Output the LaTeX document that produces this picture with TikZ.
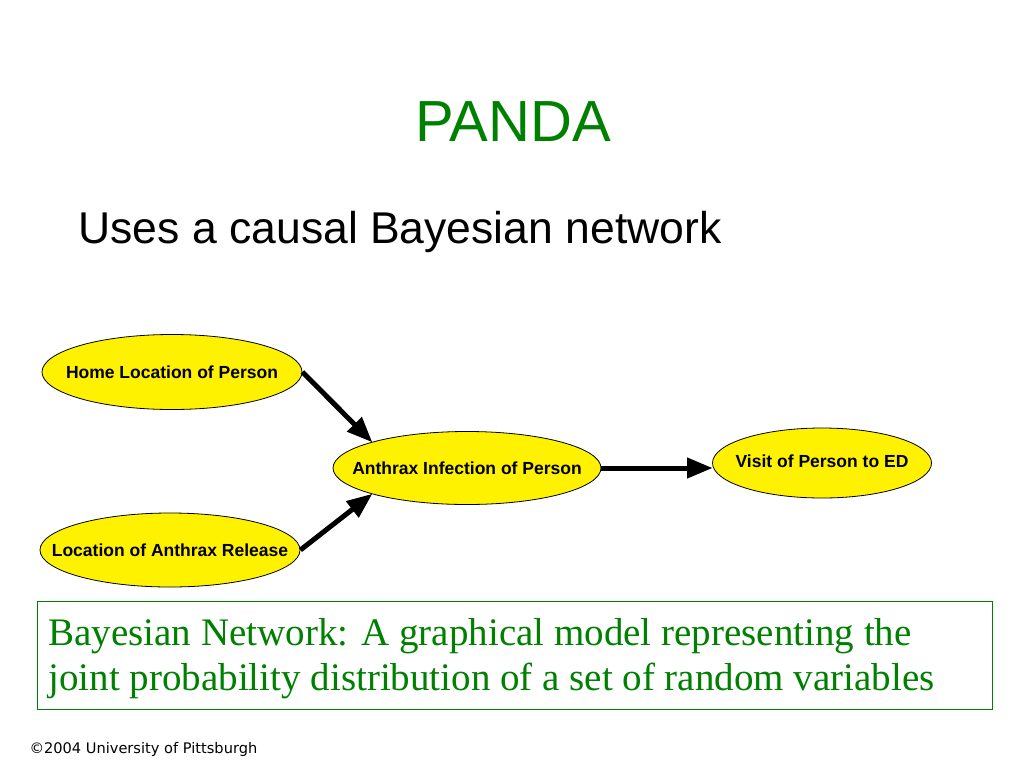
\documentclass[tikz,border=0pt]{standalone}
\usepackage{fontspec}
\setmainfont{Liberation Serif}
\setsansfont{Liberation Sans}
\newfontfamily\footfont{DejaVu Sans}
\usepackage{tikz}
\usetikzlibrary{shapes,arrows}
\usetikzlibrary{calc}
\definecolor{slidegreen}{RGB}{0,128,0}

\begin{document}
\begin{tikzpicture}[x=1pt,y=-1pt,->,>=triangle 45,line width=5pt,
                    var node/.style={ellipse,fill=yellow,draw=black,line width=0.8pt,inner sep=0pt,font=\sffamily\bfseries\fontsize{17.5}{20}\selectfont}]
  \useasboundingbox[fill=white] (0,0) rectangle (1024,768);

  \node[draw=none,text=slidegreen,font=\sffamily\fontsize{58}{66}\selectfont] (title) at (513,122) {PANDA};
  \node[draw=none,anchor=base west,inner sep=0pt,font=\sffamily\fontsize{44.5}{50}\selectfont] (sub) at (76,243) {Uses a causal Bayesian network};

  \node[var node,minimum width=260pt,minimum height=75pt] (1) at (172,372) {\makebox[0pt]{Home Location of Person}};
  \node[var node,minimum width=260pt,minimum height=74pt] (2) at (170,550) {\makebox[0pt]{Location of Anthrax Release}};
  \node[var node,minimum width=268pt,minimum height=73pt] (3) at (467,468) {\makebox[0pt]{Anthrax Infection of Person}};
  \node[var node,minimum width=219pt,minimum height=70pt] (4) at (822,463) {\makebox[0pt]{\raisebox{3pt}{Visit of Person to ED}}};

  \draw (1.east) -- (3.north west);
  \draw (2.east) -- (3.south west);
  \draw (3.east) -- (4.west |- 3.east);

  \node[draw=slidegreen,line width=0.8pt,minimum width=955pt,minimum height=108pt,anchor=north west,inner sep=0pt] (def) at (37,601) {};
  \node[draw=none,anchor=base west,align=left,text=slidegreen,inner sep=0pt,font=\fontsize{39}{45}\selectfont] (deftext) at (46,690)
    {Bayesian Network: A graphical model representing the\\joint probability distribution of a set of random variables};

  \node[draw=none,anchor=base west,inner sep=0pt,font=\footfont\fontsize{14.6}{18}\selectfont] (copy) at (27,753) {\textcopyright2004 University of Pittsburgh};
\end{tikzpicture}
\end{document}
